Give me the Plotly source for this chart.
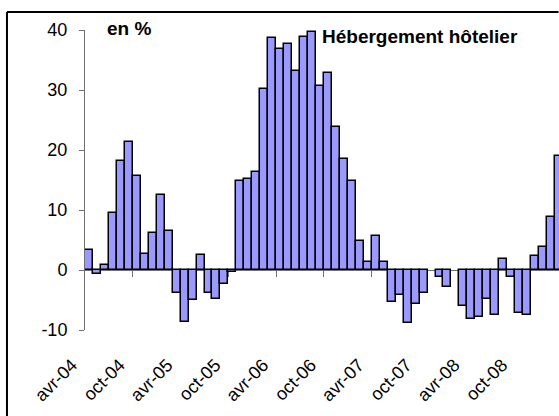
import plotly.graph_objects as go

# Months (avr-04 .. mars-09).
months = [
    "avr-04", "mai-04", "juin-04", "juil-04", "août-04", "sept-04",
    "oct-04", "nov-04", "déc-04", "janv-05", "févr-05", "mars-05",
    "avr-05", "mai-05", "juin-05", "juil-05", "août-05", "sept-05",
    "oct-05", "nov-05", "déc-05", "janv-06", "févr-06", "mars-06",
    "avr-06", "mai-06", "juin-06", "juil-06", "août-06", "sept-06",
    "oct-06", "nov-06", "déc-06", "janv-07", "févr-07", "mars-07",
    "avr-07", "mai-07", "juin-07", "juil-07", "août-07", "sept-07",
    "oct-07", "nov-07", "déc-07", "janv-08", "févr-08", "mars-08",
    "avr-08", "mai-08", "juin-08", "juil-08", "août-08", "sept-08",
    "oct-08", "nov-08", "déc-08", "janv-09", "févr-09", "mars-09",
]

# Year-on-year change, in %.
values = [
    3.3, -0.6, 0.9, 9.5, 18.2, 21.4,
    15.7, 2.7, 6.2, 12.5, 6.5, -3.9,
    -8.6, -5.0, 2.5, -3.9, -4.8, -2.4,
    -0.3, 14.9, 15.2, 16.3, 30.2, 38.7,
    36.9, 37.6, 33.2, 38.8, 39.6, 30.7,
    32.8, 23.9, 18.5, 14.9, 4.8, 1.4,
    5.6, 1.4, -5.4, -4.1, -8.9, -5.6,
    -3.8, None, -1.2, -2.8, None, -6.0,
    -8.1, -7.8, -4.9, -7.5, 1.8, -1.2,
    -7.1, -7.5, 2.4, 3.9, 8.9, 19.0,
]

tick_labels = ["avr-04", "oct-04", "avr-05", "oct-05", "avr-06",
               "oct-06", "avr-07", "oct-07", "avr-08", "oct-08"]
y_ticks = [-10, 0, 10, 20, 30, 40]
y_tick_text = ["-10", "0", "10", "20", "30", "40"]

x = list(range(len(months)))
tick_pos = [months.index(t) for t in tick_labels]
boundaries = [p - 0.5 for p in tick_pos[1:]]
xrange = [-0.5, len(months) - 1.0]

font = "Liberation Sans, Arial, sans-serif"
grey = "#707070"

fig = go.Figure()
fig.add_trace(go.Bar(x=x, y=values, width=1,
                     marker=dict(color="#9999FF", line=dict(color="black", width=1.5)),
                     hovertext=months))
# dummy trace so the zero-crossing axis exists
fig.add_trace(go.Scatter(x=[None], y=[None], xaxis="x2", showlegend=False))

fig.update_layout(
    width=559, height=416,
    margin=dict(l=85, r=0, t=30, b=86),
    paper_bgcolor="white", plot_bgcolor="white",
    font=dict(family=font, size=18, color="black"),
    showlegend=False, bargap=0,
    xaxis=dict(range=xrange, tickvals=tick_pos, ticktext=tick_labels,
               tickangle=-45, showline=False, showgrid=False, zeroline=False,
               ticks="", ticklabelshift=-17, ticklabelstandoff=20,
               automargin=False),
    xaxis2=dict(range=xrange, overlaying="x", anchor="free", position=0.2,
                showline=True, linecolor=grey, linewidth=1,
                ticks="outside", ticklen=6, tickcolor=grey, tickvals=boundaries,
                showticklabels=False, showgrid=False, zeroline=False,
                layer="below traces", automargin=False),
    yaxis=dict(range=[-10, 40], tickvals=y_ticks, ticktext=y_tick_text,
               showgrid=False, zeroline=False,
               showline=True, linecolor=grey, linewidth=1,
               ticks="outside", ticklen=5, tickcolor=grey, ticklabelstandoff=8,
               automargin=False),
)

# chart frame (cropped at the right and bottom): top and left edges
frame = dict(color="black", width=2)
fig.add_shape(type="line", xref="paper", yref="paper", layer="above",
              x0=-0.1646, x1=0.999, y0=1.06, y1=1.06, line=frame)
fig.add_shape(type="line", xref="paper", yref="paper",
              x0=-0.1646, x1=-0.1646, y0=-0.3, y1=1.06, line=frame)

fig.add_annotation(text="<b>en %</b>", xref="paper", yref="paper",
                   x=0.042, y=1.005, xanchor="left", yanchor="middle",
                   showarrow=False, font=dict(size=19))
fig.add_annotation(text="<b>Hébergement hôtelier</b>", xref="paper", yref="paper",
                   x=0.496, y=0.978, xanchor="left", yanchor="middle",
                   showarrow=False, font=dict(size=19))

# page body has a default 8px margin; remove it so the figure fills the window
fig.write_html("out.html", config={"displayModeBar": False},
               post_script="document.body.style.margin='0';")
